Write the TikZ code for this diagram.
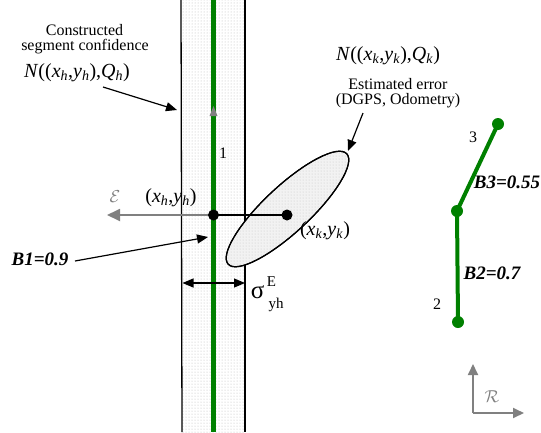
\documentclass[tikz,border=0pt]{standalone}
\usepackage{fontspec}
\setmainfont{Liberation Serif}
\usetikzlibrary{arrows.meta,patterns}
\definecolor{segGreen}{RGB}{0,128,0}
\newcommand{\ivar}[2]{\textit{#1}\textsubscript{\textit{#2}}}
\begin{document}
\begin{tikzpicture}[x=1pt,y=-1pt,
  lbl/.style={inner sep=0pt, font=\fontsize{16}{18}\selectfont},
  mlbl/.style={inner sep=0pt, font=\fontsize{20}{22}\selectfont},
  blbl/.style={inner sep=0pt, font=\fontsize{19}{21}\selectfont\bfseries\itshape},
  arr/.style={-{Triangle[length=11pt,width=9pt]}, line width=1.2pt},
  gdot/.style={circle, fill=segGreen, inner sep=0pt, minimum size=12pt},
  bdot/.style={circle, fill=black, inner sep=0pt, minimum size=11pt},
  seg/.style={segGreen, line width=4pt},
  garr/.style={gray, line width=1.8pt, -{Triangle[length=13pt,width=12pt]}}]
\useasboundingbox (0,0) rectangle (541,432);
\fill[white] (0,0) rectangle (541,432);
% confidence band
\path[fill=white] (181,0) rectangle (245,432);
\path[pattern=dots, pattern color=gray!55] (181,0) rectangle (245,432);
\draw[line width=1.3pt] (181,0) -- (182,432);
\draw[line width=1.3pt] (245,0) -- (245,432);
% green segment 1
\coordinate (gtop) at (213.5,0);
\coordinate (gbot) at (213.5,432);
\draw[segGreen, line width=5pt] (gtop) -- (gbot);
\fill[gray] (209.5,116) -- (217.5,116) -- (213.5,106) -- cycle;
\node[lbl] (one) at (223,153) {1};
% ellipse
\begin{scope}[rotate around={43:(287.5,209)}]
\draw[line width=1.2pt, fill=gray!10] (287.5,209) ellipse [x radius=81pt, y radius=23pt];
\path[pattern=dots, pattern color=gray!45] (287.5,209) ellipse [x radius=81pt, y radius=23pt];
\draw[line width=1.2pt] (287.5,209) ellipse [x radius=81pt, y radius=23pt];
\end{scope}
% E axis and points
\coordinate (xh) at (213.5,215);
\coordinate (xk) at (287,215);
\coordinate (eTip) at (107,215);
\draw[garr] (xh) -- (eTip);
\draw[line width=1.2pt] (xh) -- (xk);
\node[bdot] (dh) at (xh) {};
\node[bdot] (dk) at (xk) {};
\node[inner sep=0pt, text=gray, font=\fontsize{18}{20}\selectfont] (E) at (115,197) {$\mathcal{E}$};
\node[mlbl] (lxh) at (171,198) {(\ivar{x}{h},\ivar{y}{h})};
\node[mlbl] (lxk) at (325,231) {(\ivar{x}{k},\ivar{y}{k})};
% sigma
\coordinate (s1) at (182.5,283);
\coordinate (s2) at (245,283);
\draw[{Triangle[length=11pt,width=9pt]}-{Triangle[length=11pt,width=9pt]}, line width=1.2pt] (s1) -- (s2);
\node[inner sep=0pt, font=\fontsize{25}{26}\selectfont] (sig) at (257.5,292) {σ};
\node[inner sep=0pt, font=\fontsize{15}{16}\selectfont] (sigE) at (271.5,281.5) {E};
\node[inner sep=0pt, font=\fontsize{15}{16}\selectfont] (sigyh) at (276,305) {yh};
% B1
\node[blbl] (b1) at (40,259) {B1=0.9};
\coordinate (b1a) at (75,261);
\coordinate (b1b) at (208,237);
\draw[arr] (b1a) -- (b1b);
% constructed segment confidence
\node[lbl] (cs1) at (84.5,30) {Constructed};
\node[lbl] (cs2) at (85,47) {segment confidence};
\node[mlbl] (nh) at (77,73) {\textit{N}((\ivar{x}{h},\ivar{y}{h}),\ivar{Q}{h})};
\coordinate (c1) at (103,87);
\coordinate (c2) at (177,110);
\draw[arr] (c1) -- (c2);
% estimated error
\node[mlbl] (nk) at (388,56) {\textit{N}((\ivar{x}{k},\ivar{y}{k}),\ivar{Q}{k})};
\node[lbl] (ee1) at (398,84) {Estimated error};
\node[lbl] (ee2) at (398,101) {(DGPS, Odometry)};
\coordinate (e1) at (363,113);
\coordinate (e2) at (348,151);
\draw[arr] (e1) -- (e2);
% right segments
\coordinate (p3) at (498,124);
\coordinate (pm) at (457,211);
\coordinate (p2) at (458,322);
\draw[seg] (p2) -- (pm) -- (p3);
\node[gdot] (q3) at (p3) {};
\node[gdot] (qm) at (pm) {};
\node[gdot] (q2) at (p2) {};
\node[lbl] (three) at (473,137) {3};
\node[lbl] (two) at (437,304) {2};
\node[blbl] (b3) at (507,182) {B3=0.55};
\node[blbl] (b2) at (492,273) {B2=0.7};
% R axes
\coordinate (ro) at (473,413);
\coordinate (ry) at (473,364);
\coordinate (rx) at (524,413);
\draw[gray, line width=1.8pt, -{Triangle[length=11pt,width=10pt]}] (ro) -- (ry);
\draw[gray, line width=1.8pt, -{Triangle[length=11pt,width=10pt]}] (ro) -- (rx);
\node[inner sep=0pt, text=gray, font=\fontsize{17}{19}\selectfont] (R) at (492,397) {$\mathcal{R}$};
\end{tikzpicture}
\end{document}
